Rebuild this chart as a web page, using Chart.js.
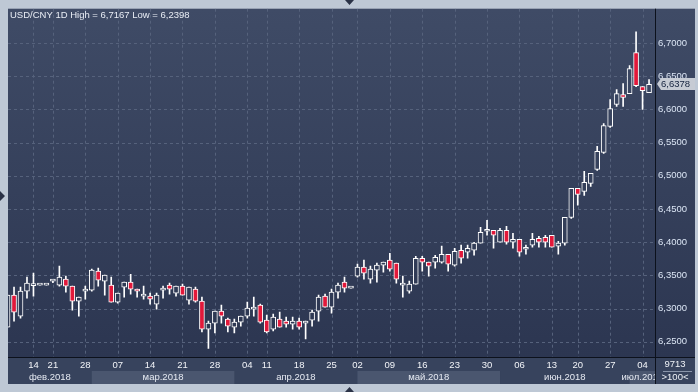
<!DOCTYPE html>
<html>
<head>
<meta charset="utf-8">
<script src="https://cdn.jsdelivr.net/npm/chart.js@4.4.0/dist/chart.umd.min.js"></script>
<style>
  html, body { margin: 0; padding: 0; background: #bec8d5; overflow: hidden; }
  canvas { display: block; }
</style>
</head>
<body>
<canvas id="usdcny" width="698" height="392"></canvas>
<script>
// daily USD/CNY candles, 100 sessions from early Feb to 05 Jul 2018
const opens = [6.2721, 6.3202, 6.2886, 6.3262, 6.3345, 6.3352, 6.3352, 6.3412, 6.3352, 6.3442,
  6.3337, 6.3112, 6.3262, 6.3277, 6.3563, 6.3412, 6.3352, 6.3096, 6.3322, 6.3397,
  6.3292, 6.3187, 6.3187, 6.3066, 6.3277, 6.3352, 6.3232, 6.3337, 6.3127, 6.3292,
  6.3112, 6.2691, 6.2781, 6.2961, 6.2841, 6.2721, 6.2796, 6.2886, 6.2991, 6.3051,
  6.2826, 6.2691, 6.2841, 6.2811, 6.2766, 6.2811, 6.2781, 6.2826, 6.2961, 6.3187,
  6.3021, 6.3247, 6.3397, 6.3307, 6.3487, 6.3623, 6.3442, 6.3578, 6.3653, 6.3728,
  6.3683, 6.3352, 6.3262, 6.3367, 6.3758, 6.3698, 6.3698, 6.3698, 6.3818, 6.3653,
  6.3878, 6.3848, 6.3878, 6.3984, 6.4164, 6.4179, 6.3999, 6.4179, 6.3999, 6.4044,
  6.3893, 6.3954, 6.4059, 6.4074, 6.4104, 6.3939, 6.3984, 6.4374, 6.4810, 6.4765,
  6.4885, 6.5096, 6.5351, 6.5742, 6.6073, 6.6223, 6.6238, 6.6854, 6.6343, 6.6253]

const highs = [6.3202, 6.3322, 6.3322, 6.3472, 6.3533, 6.3352, 6.3352, 6.3430, 6.3638, 6.3487,
  6.3337, 6.3172, 6.3337, 6.3593, 6.3608, 6.3502, 6.3472, 6.3232, 6.3397, 6.3517,
  6.3292, 6.3337, 6.3232, 6.3232, 6.3337, 6.3382, 6.3337, 6.3367, 6.3322, 6.3322,
  6.3172, 6.2811, 6.2961, 6.3051, 6.2856, 6.2841, 6.2886, 6.3096, 6.3172, 6.3066,
  6.2901, 6.2916, 6.2946, 6.2871, 6.2871, 6.2856, 6.2811, 6.2976, 6.3202, 6.3217,
  6.3292, 6.3382, 6.3472, 6.3307, 6.3668, 6.3728, 6.3638, 6.3683, 6.3698, 6.3833,
  6.3683, 6.3487, 6.3412, 6.3788, 6.3788, 6.3698, 6.3803, 6.3939, 6.3818, 6.3908,
  6.3954, 6.3954, 6.3999, 6.4224, 6.4329, 6.4179, 6.4209, 6.4239, 6.4134, 6.4044,
  6.3954, 6.4134, 6.4089, 6.4104, 6.4104, 6.4014, 6.4374, 6.4810, 6.4810, 6.5066,
  6.5036, 6.5442, 6.5787, 6.6148, 6.6298, 6.6388, 6.6659, 6.7167, 6.6343, 6.6449]

const lows = [6.2721, 6.2811, 6.2856, 6.3157, 6.3187, 6.3352, 6.3352, 6.3390, 6.3337, 6.3247,
  6.2976, 6.2886, 6.3142, 6.3262, 6.3337, 6.3202, 6.3096, 6.3081, 6.3172, 6.3217,
  6.3172, 6.3142, 6.3066, 6.2991, 6.3157, 6.3217, 6.3187, 6.3202, 6.3066, 6.3096,
  6.2646, 6.2398, 6.2631, 6.2781, 6.2646, 6.2631, 6.2736, 6.2856, 6.2886, 6.2781,
  6.2631, 6.2661, 6.2721, 6.2721, 6.2691, 6.2691, 6.2541, 6.2736, 6.2811, 6.3021,
  6.2931, 6.3157, 6.3247, 6.3307, 6.3472, 6.3442, 6.3382, 6.3397, 6.3548, 6.3563,
  6.3382, 6.3172, 6.3232, 6.3367, 6.3563, 6.3487, 6.3608, 6.3683, 6.3563, 6.3638,
  6.3683, 6.3758, 6.3803, 6.3984, 6.4104, 6.3908, 6.3999, 6.3969, 6.3908, 6.3788,
  6.3818, 6.3923, 6.3923, 6.3923, 6.3923, 6.3818, 6.3954, 6.4359, 6.4555, 6.4705,
  6.4840, 6.5081, 6.5336, 6.5727, 6.6043, 6.6043, 6.6238, 6.6343, 6.5998, 6.6253]

const closes = [6.3202, 6.2946, 6.3262, 6.3382, 6.3345, 6.3352, 6.3352, 6.3412, 6.3472, 6.3337,
  6.3112, 6.3172, 6.3292, 6.3578, 6.3427, 6.3502, 6.3096, 6.3232, 6.3397, 6.3292,
  6.3262, 6.3187, 6.3142, 6.3202, 6.3292, 6.3292, 6.3337, 6.3202, 6.3322, 6.3112,
  6.2691, 6.2781, 6.2961, 6.2886, 6.2736, 6.2796, 6.2886, 6.3006, 6.3021, 6.2796,
  6.2646, 6.2871, 6.2721, 6.2766, 6.2811, 6.2721, 6.2781, 6.2946, 6.3172, 6.3021,
  6.3247, 6.3352, 6.3307, 6.3307, 6.3623, 6.3533, 6.3593, 6.3653, 6.3698, 6.3593,
  6.3442, 6.3352, 6.3367, 6.3758, 6.3698, 6.3638, 6.3773, 6.3818, 6.3668, 6.3863,
  6.3758, 6.3908, 6.3984, 6.4149, 6.4164, 6.4104, 6.4179, 6.3999, 6.4044, 6.3848,
  6.3893, 6.4044, 6.3999, 6.3999, 6.3923, 6.3984, 6.4374, 6.4810, 6.4720, 6.4900,
  6.5036, 6.5366, 6.5757, 6.6013, 6.6238, 6.6178, 6.6614, 6.6358, 6.6283, 6.6378]

// x axis: candle index of each weekly tick and its text
const tickIdx = [4, 7, 12, 17, 22, 27, 32, 37, 40, 45, 50, 54, 59, 64, 69, 74, 79, 84, 88, 93, 98]
const tickText = ['14', '21', '28', '07', '14', '21', '28', '04', '11', '18', '25',
  '02', '09', '16', '23', '30', '06', '13', '20', '27', '04']

// month row: first candle of each month
const monthStart = [0, 13, 35, 54, 76, 96]
const monthText = ['фев.2018', 'мар.2018', 'апр.2018', 'май.2018', 'июн.2018', 'июл.2018']

const yTicks = [6.25, 6.30, 6.35, 6.40, 6.45, 6.50, 6.55, 6.60, 6.65, 6.70]

const fmt = v => v.toFixed(4).replace('.', ',')
const idx = opens.map((_, i) => i)
const FONT = '"Liberation Sans", Arial, sans-serif'

Chart.defaults.font.family = FONT
Chart.defaults.font.size = 9.5

function plotFill(chart) {
  const a = chart.chartArea
  if (!a) return '#36415b'
  const g = chart.ctx.createLinearGradient(0, a.top, 0, a.bottom)
  g.addColorStop(0, '#3f4b66')
  g.addColorStop(1, '#2c3651')
  return g
}

const terminalFrame = {
  id: 'terminalFrame',
  beforeDraw(chart) {
    const { ctx, chartArea: a, scales: { x, y } } = chart
    ctx.save()
    ctx.fillStyle = '#bec8d5'
    ctx.fillRect(0, 0, chart.width, chart.height)
    ctx.fillStyle = plotFill(chart)
    ctx.fillRect(a.left, a.top, y.right - a.left, a.bottom - a.top)
    ctx.fillStyle = '#37435d'
    ctx.fillRect(a.left, a.bottom, y.right - a.left, x.bottom - a.bottom)
    // lighter band behind every other month
    ctx.fillStyle = '#4a566f'
    monthStart.forEach((s, k) => {
      if (k % 2 === 0) return
      const x0 = Math.max(x.getPixelForValue(s), a.left)
      const x1 = k + 1 < monthStart.length ? x.getPixelForValue(monthStart[k + 1]) : a.right
      ctx.fillRect(x0, a.bottom + 14, Math.min(x1, a.right) - x0, x.bottom - a.bottom - 14)
    })
    ctx.restore()
  },
  beforeDatasetsDraw(chart) {
    const { ctx, chartArea: a, scales: { x, y } } = chart
    ctx.save()
    ctx.beginPath()
    ctx.rect(a.left, a.top, a.right - a.left, a.bottom - a.top)
    ctx.clip()
    ctx.strokeStyle = '#56627c'
    ctx.lineWidth = 1
    ctx.setLineDash([3, 3])
    ctx.beginPath()
    yTicks.forEach(v => {
      const py = Math.round(y.getPixelForValue(v)) + 0.5
      ctx.moveTo(a.left, py)
      ctx.lineTo(a.right, py)
    })
    tickIdx.forEach(i => {
      const px = Math.round(x.getPixelForValue(i)) + 0.5
      ctx.moveTo(px, a.top)
      ctx.lineTo(px, a.bottom)
    })
    ctx.stroke()
    ctx.restore()
  },
  afterDraw(chart) {
    const { ctx, chartArea: a, scales: { x, y } } = chart
    ctx.save()
    // separators
    ctx.strokeStyle = '#0c111c'
    ctx.lineWidth = 1
    ctx.beginPath()
    ctx.moveTo(a.right + 0.5, a.top)
    ctx.lineTo(a.right + 0.5, x.bottom)
    ctx.moveTo(a.left, a.bottom + 0.5)
    ctx.lineTo(y.right, a.bottom + 0.5)
    ctx.stroke()

    ctx.font = '9.5px ' + FONT
    ctx.textBaseline = 'middle'

    // month names, clipped to the plot width
    ctx.save()
    ctx.beginPath()
    ctx.rect(a.left, a.bottom, a.right - a.left, x.bottom - a.bottom)
    ctx.clip()
    ctx.fillStyle = '#e6eaf2'
    ctx.textAlign = 'center'
    monthStart.forEach((s, k) => {
      const x0 = Math.max(x.getPixelForValue(s), a.left)
      const x1 = k + 1 < monthStart.length ? Math.min(x.getPixelForValue(monthStart[k + 1]), a.right) : a.right
      ctx.fillText(monthText[k], (x0 + x1) / 2, a.bottom + 20)
    })
    ctx.restore()

    // title
    ctx.fillStyle = '#e9edf5'
    ctx.textAlign = 'left'
    ctx.fillText('USD/CNY 1D High = ' + fmt(Math.max(...highs)) + ' Low = ' + fmt(Math.min(...lows)), 10, 15)

    // last price marker
    const last = closes[closes.length - 1]
    const py = Math.round(y.getPixelForValue(last))
    ctx.fillStyle = '#c6cbd4'
    ctx.beginPath()
    ctx.moveTo(a.right + 2, py)
    ctx.lineTo(a.right + 6, py - 6)
    ctx.lineTo(y.right, py - 6)
    ctx.lineTo(y.right, py + 6)
    ctx.lineTo(a.right + 6, py + 6)
    ctx.closePath()
    ctx.fill()
    ctx.fillStyle = '#14223e'
    ctx.fillText(fmt(last), a.right + 6, py + 0.5)

    // corner box
    const cx = (a.right + y.right) / 2
    ctx.fillStyle = '#eef1f6'
    ctx.textAlign = 'center'
    ctx.fillText('9713', cx, a.bottom + 7.5)
    ctx.fillText('>100<', cx, a.bottom + 20.5)
    ctx.strokeStyle = '#8a95aa'
    ctx.beginPath()
    ctx.moveTo(a.right + 8, a.bottom + 14.5)
    ctx.lineTo(y.right - 3, a.bottom + 14.5)
    ctx.stroke()

    // small frame arrows
    ctx.fillStyle = '#2a3246'
    ctx.beginPath()
    ctx.moveTo(345, 0); ctx.lineTo(354, 0); ctx.lineTo(349.5, 5); ctx.closePath()
    ctx.moveTo(345, 392); ctx.lineTo(354, 392); ctx.lineTo(349.5, 387); ctx.closePath()
    ctx.moveTo(0, 191); ctx.lineTo(0, 201); ctx.lineTo(5, 196); ctx.closePath()
    ctx.fill()
    ctx.restore()
  }
}

const ctx = document.getElementById('usdcny').getContext('2d')

new Chart(ctx, {
  type: 'bar',
  data: {
    datasets: [
      {
        // bodies: open to close
        data: idx.map(i => ({ x: i, y: [opens[i], closes[i]] })),
        backgroundColor: c => (closes[c.dataIndex] >= opens[c.dataIndex] ? plotFill(c.chart) : '#e2183a'),
        borderColor: '#ffffff',
        borderWidth: 1,
        borderSkipped: false,
        barThickness: 5,
        minBarLength: 2,
        grouped: false,
        clip: 0,
        order: 1,
      },
      {
        // wicks: low to high
        data: idx.map(i => ({ x: i, y: [lows[i], highs[i]] })),
        backgroundColor: '#ffffff',
        borderWidth: 0,
        barThickness: 1,
        grouped: false,
        clip: 0,
        order: 2,
      },
    ],
  },
  options: {
    responsive: false,
    animation: false,
    devicePixelRatio: 1,
    events: [],
    layout: { padding: { left: 8, top: 8, right: 3, bottom: 8 } },
    scales: {
      x: {
        type: 'linear',
        min: 0.07,
        max: 99.92,
        offset: false,
        grid: { display: false, drawTicks: false },
        border: { display: false },
        afterBuildTicks: s => { s.ticks = tickIdx.map(v => ({ value: v })) },
        afterFit: s => { s.height = 27 },
        ticks: {
          autoSkip: false,
          maxRotation: 0,
          minRotation: 0,
          padding: 3,
          color: '#f2f4f8',
          callback: (v, i) => tickText[i],
        },
      },
      y: {
        position: 'right',
        min: 6.2270,
        max: 6.7516,
        grid: { display: false, drawTicks: false },
        border: { display: false },
        afterBuildTicks: s => { s.ticks = yTicks.map(v => ({ value: v })) },
        afterFit: s => { s.width = 40 },
        ticks: {
          padding: 3,
          crossAlign: 'near',
          color: '#dbe5f4',
          callback: v => fmt(v),
        },
      },
    },
    plugins: {
      legend: { display: false },
      tooltip: { enabled: false },
    },
  },
  plugins: [terminalFrame],
})
</script>
</body>
</html>
